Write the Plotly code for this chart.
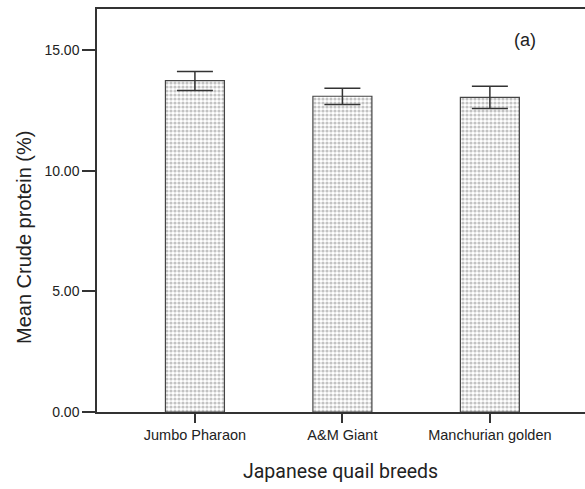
import plotly.graph_objects as go

breeds = ["Jumbo Pharaon", "A&M Giant", "Manchurian golden"]
mean_cp = [13.75, 13.10, 13.05]
err_plus = [0.38, 0.33, 0.47]
err_minus = [0.41, 0.34, 0.46]
y_ticks = [0, 5, 10, 15]
y_tick_labels = ["0.00", "5.00", "10.00", "15.00"]

fig = go.Figure()
fig.add_trace(go.Bar(
    x=[0, 1, 2],
    y=mean_cp,
    width=0.40,
    marker=dict(
        color="white",
        line=dict(color="#444444", width=1.2),
        pattern=dict(shape=".", fgcolor="#888888", bgcolor="white", size=4, solidity=0.5),
    ),
    error_y=dict(type="data", symmetric=False, array=err_plus, arrayminus=err_minus,
                 color="#333333", thickness=1.5, width=18),
    showlegend=False,
))

fig.update_layout(
    width=585, height=489,
    margin=dict(l=97, r=0, t=9, b=77),
    paper_bgcolor="white", plot_bgcolor="white",
    font=dict(family="Liberation Sans, Arial, sans-serif", color="#222222"),
    xaxis=dict(
        range=[-0.664, 2.645],
        tickmode="array", tickvals=[0, 1, 2], ticktext=breeds,
        ticks="outside", ticklen=9, tickwidth=1.5, tickcolor="#333333",
        showline=True, linecolor="#333333", linewidth=1.5, mirror=True,
        showgrid=False, zeroline=False,
        tickfont=dict(size=14.5, color="#222222"),
    ),
    yaxis=dict(
        range=[0, 16.72],
        tickmode="array", tickvals=y_ticks, ticktext=y_tick_labels,
        ticks="outside", ticklen=13, tickwidth=1.5, tickcolor="#333333",
        showline=True, linecolor="#333333", linewidth=1.5,
        showgrid=False, zeroline=False,
        tickfont=dict(size=14, color="#222222"),
    ),
    annotations=[
        dict(text="(a)", xref="paper", yref="paper", x=(525 - 97) / 488, y=(480 - 31 - 77) / 403,
             xanchor="center", yanchor="middle",
             showarrow=False, font=dict(size=18, color="#222222")),
        dict(text="Japanese quail breeds", xref="paper", yref="paper",
             x=(340 - 97) / 488, y=(412 - 471) / 403,
             xanchor="center", yanchor="middle", showarrow=False,
             font=dict(family="Roboto, Liberation Sans, sans-serif", size=19.5, color="#222222")),
        dict(text="Mean Crude protein (%)", xref="paper", yref="paper",
             x=(24 - 97) / 488, y=(412 - 238) / 403,
             xanchor="center", yanchor="middle", textangle=-90, showarrow=False,
             font=dict(size=20, color="#222222")),
    ],
)

fig.write_html("out.html")
